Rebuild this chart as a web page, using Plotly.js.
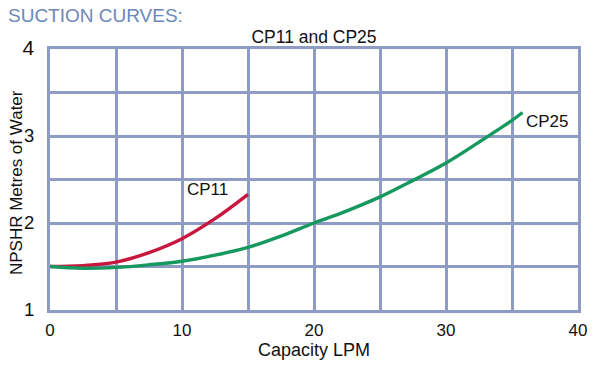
<!DOCTYPE html>
<html><head><meta charset="utf-8">
<script src="https://cdn.plot.ly/plotly-3.0.1.min.js"></script>
<style>html,body{margin:0;padding:0;background:#fff}#chart{width:600px;height:373px}</style>
</head><body><div id="chart"></div>
<script>
const cp11X = [0, 2.5, 5, 7.5, 10, 12.5, 15];
const cp11Y = [1.5, 1.51, 1.55, 1.66, 1.82, 2.05, 2.33];
const cp25X = [0, 2.5, 5, 7.5, 10, 12.5, 15, 17.5, 20, 22.5, 25, 27.5, 30, 32.5, 35, 35.8];
const cp25Y = [1.5, 1.48, 1.49, 1.52, 1.56, 1.63, 1.72, 1.85, 2.0, 2.14, 2.30, 2.49, 2.69, 2.93, 3.18, 3.27];
const xTicks = [0, 10, 20, 30, 40];
const yTicks = [1, 2, 3, 4];
const labels = [{text: 'CP11', x: 11.9, y: 2.38}, {text: 'CP25', x: 37.7, y: 3.17}];

const grid = '#8e9bc5';
const font = 'Liberation Sans, Arial, sans-serif';
const traces = [
  {x: cp11X, y: cp11Y, mode: 'lines', line: {color: '#c8173f', width: 3.4, shape: 'spline'}, hoverinfo: 'none'},
  {x: cp25X, y: cp25Y, mode: 'lines', line: {color: '#16985e', width: 3.4, shape: 'spline'}, hoverinfo: 'none'}
];
const layout = {
  width: 600, height: 373,
  margin: {l: 50, r: 22, t: 49, b: 63},
  paper_bgcolor: '#fff', plot_bgcolor: '#fff',
  showlegend: false,
  font: {family: font, color: '#111', size: 17},
  title: {text: 'CP11 and CP25', x: 0.5, xanchor: 'center', xref: 'paper', y: 1, yref: 'paper', yanchor: 'bottom', pad: {b: 6}, font: {size: 17.5, color: '#111'}},
  xaxis: {range: [0, 40], tickvals: xTicks, ticktext: xTicks.map(String),
    showgrid: true, gridcolor: grid, gridwidth: 3, zeroline: false,
    showline: true, linecolor: grid, linewidth: 3, mirror: true, ticks: '',
    tickfont: {size: 17}, ticklabelstandoff: 3,
    minor: {dtick: 5, tick0: 0, showgrid: true, gridcolor: grid, gridwidth: 3},
    title: {text: 'Capacity LPM', font: {size: 18}, standoff: 4}},
  yaxis: {range: [1, 4], tickvals: yTicks,
    ticktext: yTicks.map(v => v === 4 ? '<span style="font-size:21px">4</span>' : String(v)),
    showgrid: true, gridcolor: grid, gridwidth: 3, zeroline: false,
    showline: true, linecolor: grid, linewidth: 3, mirror: true, ticks: '',
    tickfont: {size: 18.5}, ticklabelstandoff: 9,
    minor: {dtick: 0.5, tick0: 1, showgrid: true, gridcolor: grid, gridwidth: 3}},
  annotations: labels.map(l => ({text: l.text, x: l.x, y: l.y, xref: 'x', yref: 'y', showarrow: false, font: {size: 17, color: '#111'}})).concat([
    {text: 'SUCTION CURVES:', xref: 'paper', yref: 'paper', x: -0.083, y: 1.176, xanchor: 'left', yanchor: 'top', showarrow: false, font: {size: 19, color: '#6d87b9'}},
    {text: 'NPSHR Metres of Water', xref: 'paper', yref: 'paper', x: -0.0645, y: 0.49, xanchor: 'center', yanchor: 'middle', textangle: -90, showarrow: false, font: {size: 17, color: '#111'}}
  ])
};
Plotly.newPlot('chart', traces, layout, {displayModeBar: false, staticPlot: true});
</script></body></html>
